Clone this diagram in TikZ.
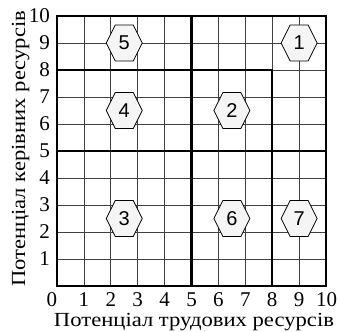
\documentclass[tikz,border=0pt]{standalone}
\usepackage{fontspec}
\usepackage{graphicx}
\setmainfont{Liberation Serif}
\newfontfamily\hexfont{Liberation Sans}
\tikzset{
  thingrid/.style={line width=0.7pt, draw=black!75},
  thickline/.style={line width=2.2pt, draw=black, line cap=rect},
  hexcell/.style={draw=black, fill=black!4, line width=0.8pt, line join=miter},
  hexnum/.style={font=\hexfont\fontsize{20}{20}\selectfont, inner sep=0pt},
  ticklab/.style={font=\fontsize{21}{21}\selectfont, inner sep=0pt},
  axislab/.style={font=\fontsize{20}{20}\selectfont, inner sep=0pt}
}
\newcommand\hexat[3]{%
  \draw[hexcell] (#1,#2) ++(-0.67,0) -- ++(0.335,0.667) -- ++(0.67,0) -- ++(0.335,-0.667) -- ++(-0.335,-0.667) -- ++(-0.67,0) -- cycle;
  \node[hexnum] (h#3) at (#1,#2) {#3};}
\begin{document}
\begin{tikzpicture}
\useasboundingbox (0,0) rectangle (338pt,332pt);
\begin{scope}[shift={(57pt,46pt)}, x=26.9pt, y=27pt]
  \draw[thingrid, step=1] (0,0) grid (10,10);
  \draw[thickline] (0,0) rectangle (10,10);
  \draw[thickline] (5,0) -- (5,10);
  \draw[thickline] (0,5) -- (10,5);
  \draw[thickline] (0,8) -- (8,8) -- (8,0);
  \hexat{9}{9}{1}
  \hexat{6.5}{6.5}{2}
  \hexat{2.5}{2.5}{3}
  \hexat{2.5}{6.5}{4}
  \hexat{2.5}{9}{5}
  \hexat{6.5}{2.5}{6}
  \hexat{9}{2.5}{7}
  \foreach \k in {1,...,10} {
    \node[ticklab, anchor=east] (y\k) at (-0.26,\k) {\k};
  }
  \foreach \k in {1,...,9} {
    \node[ticklab] (x\k) at (\k,-0.52) {\k};
  }
  \node[ticklab, anchor=east] (x10) at (10.42,-0.52) {10};
  \node[ticklab] (x0) at (-0.19,-0.52) {0};
\end{scope}
\node[axislab, anchor=base] (xlab) at (194pt,5pt) {\resizebox{280pt}{\height}{Потенціал трудових ресурсів}};
\node[axislab, anchor=base, rotate=90] (ylab) at (25pt,183pt) {\resizebox{276pt}{\height}{Потенціал керівних ресурсів}};
\end{tikzpicture}
\end{document}
